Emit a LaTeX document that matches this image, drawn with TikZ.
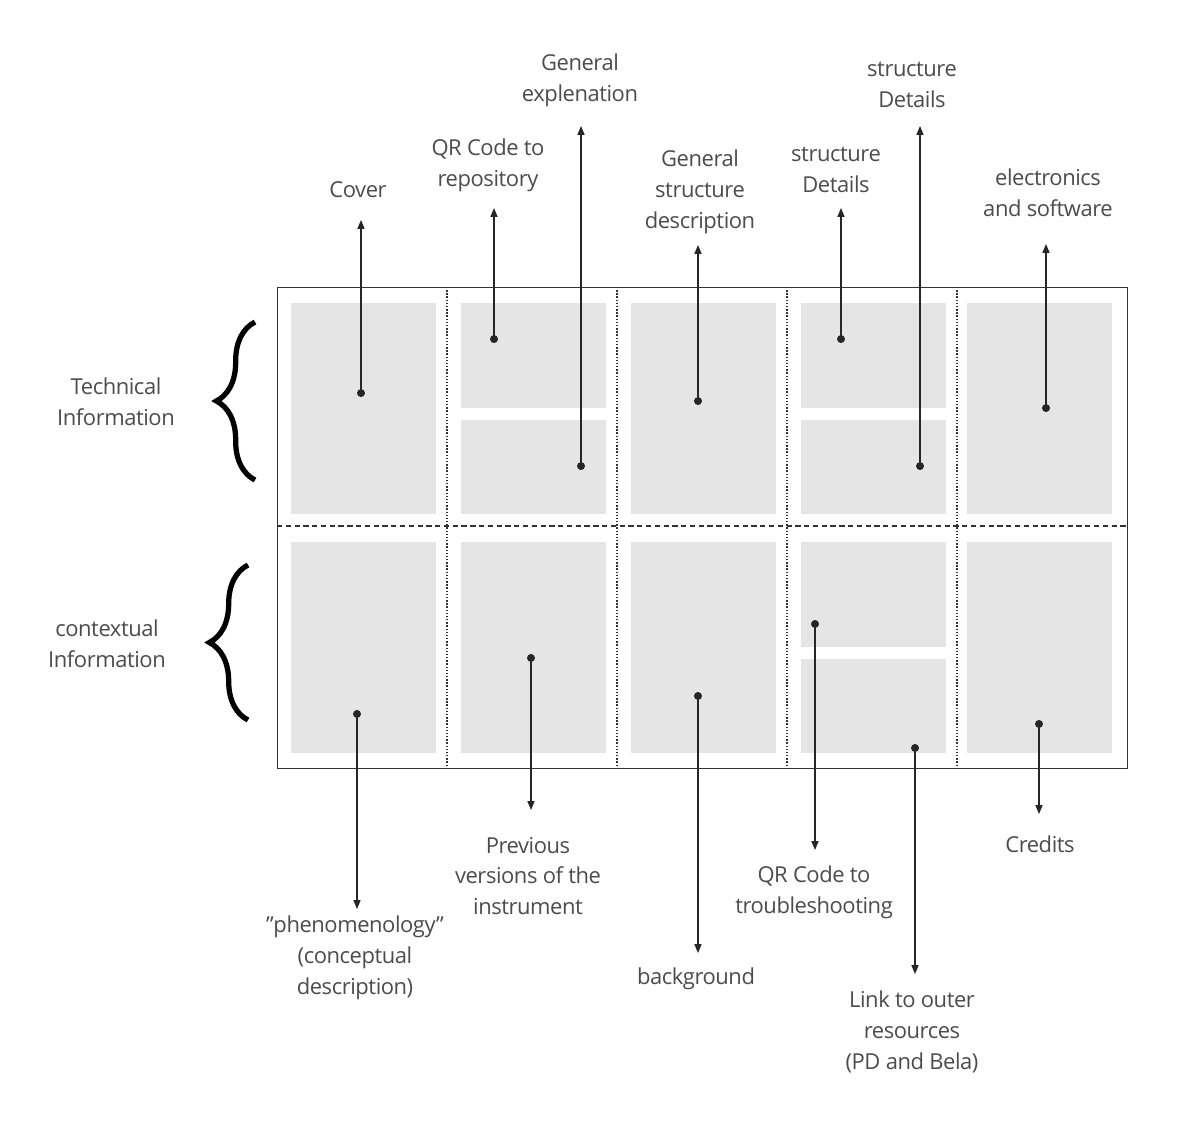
\documentclass[tikz,border=0pt]{standalone}
\usepackage{fontspec}
\setmainfont{Open Sans}
\usetikzlibrary{arrows.meta,decorations.pathreplacing}
\begin{document}
\begin{tikzpicture}[x=0.02cm,y=-0.02cm,
        panel/.style={fill=black!10, draw=none},
        label/.style={align=center, text=black!70, font=\fontsize{12.5}{17.5}\selectfont\addfontfeature{LetterSpace=-2}},
        pointer/.style={{Circle[length=4.5pt]}-{Triangle[length=5pt,width=4pt]}, semithick, black!85},
        brace/.style={decorate, decoration={brace, amplitude=22pt}, line width=3pt}
    ]
        \useasboundingbox (0,0) rectangle (1200,1127);

        % Sheet frame and folds
        \draw[black!80] (277,287) rectangle (1127,768);
        \foreach \x in {447,617,787,957}
            \draw[black!80, densely dotted, thick] (\x,287) -- (\x,768);
        \draw[black!80, densely dashed, thick] (277,526) -- (1127,526);

        % Panels
        \foreach \x in {291,631,967}
            \fill[panel] (\x,303) rectangle ++(145,211);
        \foreach \x in {291,461,631,967}
            \fill[panel] (\x,542) rectangle ++(145,211);
        \foreach \x in {461,801} {
            \fill[panel] (\x,303) rectangle ++(145,105);
            \fill[panel] (\x,420) rectangle ++(145,94);
        }
        \fill[panel] (801,542) rectangle ++(145,105);
        \fill[panel] (801,659) rectangle ++(145,94);

        % Braces
        \node[label] (tech) at (116,402) {Technical\\Information};
        \node[label] (context) at (107,644) {contextual\\Information};
        \draw[brace] (255,480) -- (255,322);
        \draw[brace] (248,720) -- (248,565);

        % Upper labels
        \node[label] (cover) at (358,190) {Cover};
        \node[label] (qrrepo) at (488,165) {QR Code to\\repository};
        \node[label] (genexp) at (580,80) {General\\explenation};
        \node[label] (genstruct) at (700,192) {General\\structure\\description};
        \node[label] (details1) at (836,170) {structure\\Details};
        \node[label] (details2) at (912,85) {structure\\Details};
        \node[label] (electro) at (1048,193) {electronics\\and software};

        % Lower labels
        \node[label] (phenom) at (355,958) {"phenomenology"\\(conceptual\\description)};
        \node[label] (previous) at (528,876) {Previous\\versions of the\\instrument};
        \node[label] (backgr) at (696,979) {background};
        \node[label] (qrtrouble) at (814,892) {QR Code to\\troubleshooting};
        \node[label] (outer) at (912,1032) {Link to outer\\resources\\(PD and Bela)};
        \node[label] (credits) at (1040,844) {Credits};

        % Pointer ends
        \coordinate (p1) at (361,397);  \coordinate (e1) at (361,220);
        \coordinate (p2) at (494,343);  \coordinate (e2) at (494,208);
        \coordinate (p3) at (581,470);  \coordinate (e3) at (581,126);
        \coordinate (p4) at (698,405);  \coordinate (e4) at (698,245);
        \coordinate (p5) at (841,343);  \coordinate (e5) at (841,208);
        \coordinate (p6) at (920,470);  \coordinate (e6) at (920,126);
        \coordinate (p7) at (1046,412); \coordinate (e7) at (1046,244);
        \coordinate (p8) at (357,710);  \coordinate (e8) at (357,909);
        \coordinate (p9) at (531,654);  \coordinate (e9) at (531,810);
        \coordinate (p10) at (698,692); \coordinate (e10) at (698,953);
        \coordinate (p11) at (815,620); \coordinate (e11) at (815,850);
        \coordinate (p12) at (915,744); \coordinate (e12) at (915,974);
        \coordinate (p13) at (1039,720); \coordinate (e13) at (1039,814);

        \foreach \i in {1,...,13}
            \draw[pointer] (p\i) -- (e\i);
    \end{tikzpicture}
\end{document}
